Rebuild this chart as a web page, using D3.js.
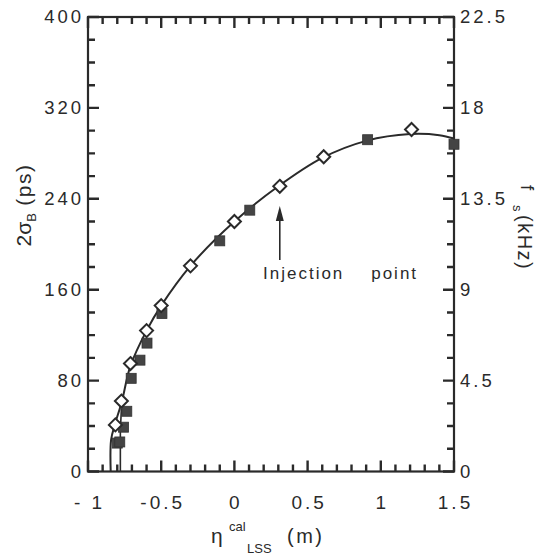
<!DOCTYPE html>
<html>
<head>
<meta charset="utf-8">
<script src="https://cdn.jsdelivr.net/npm/d3@7/dist/d3.min.js"></script>
<style>
  html, body { margin: 0; padding: 0; background: #fff; }
  svg { display: block; }
  text { font-family: "Liberation Sans", Arial, Helvetica, sans-serif; fill: #2a2a2a; }
</style>
</head>
<body>
<svg id="chart" width="538" height="555"></svg>
<script>
// ---- data ----
const xTicks = [-1, -0.5, 0, 0.5, 1, 1.5];
const xTickLabels = ["- 1", "-0.5", "0", "0.5", "1", "1.5"];
const yTicks = [0, 80, 160, 240, 320, 400];
const yTickLabels = ["0", "80", "160", "240", "320", "400"];
const yRTicks = [0, 4.5, 9, 13.5, 18, 22.5];
const yRTickLabels = ["0", "4.5", "9", "13.5", "18", "22.5"];

// open diamonds: [eta, 2sigma]
const diamondX = [-0.813, -0.772, -0.71, -0.60, -0.50, -0.30, 0.0, 0.31, 0.61, 1.21];
const diamondY = [41, 62, 95, 124, 146, 181, 220, 251, 277, 301];
// filled squares
const squareX = [-0.80, -0.783, -0.757, -0.735, -0.705, -0.645, -0.597, -0.495, -0.10, 0.105, 0.91, 1.5];
const squareY = [25, 26, 39, 53, 82, 98, 113, 139, 203, 230, 292, 288];
// fitted curve
const curveX = [-0.845, -0.842, -0.815, -0.77, -0.71, -0.60, -0.50, -0.30, 0.0, 0.30, 0.60, 0.90, 1.20, 1.40, 1.50];
const curveY = [0, 28, 42, 61, 93, 124, 146, 181, 220, 251, 276, 291, 297, 296, 293];
// short second branch near the origin
const branchX = [-0.779, -0.779, -0.772];
const branchY = [0, 36, 55];

const annotationText = "Injection    point";
const annotationX = 0.31;

// ---- layout ----
const svg = d3.select("#chart");
const L = 88, R = 454, T = 17, B = 471.5;
const x = d3.scaleLinear().domain([-1, 1.5]).range([L, R]);
const y = d3.scaleLinear().domain([0, 400]).range([B, T]);
const yR = d3.scaleLinear().domain([0, 22.5]).range([B, T]);

const ink = "#2a2a2a";

// minor tick positions
const xMinor = d3.range(-10, 16).map(d => d / 10);
const yMinor = d3.range(0, 401, 20);
const yRMinor = d3.range(0, 21).map(d => d * 1.125);

// frame
svg.append("rect").attr("x", L).attr("y", T).attr("width", R - L).attr("height", B - T)
  .attr("fill", "none").attr("stroke", ink).attr("stroke-width", 2.2);

// ticks (inward on all four sides)
const segs = [];
xMinor.forEach(d => { segs.push(`M${x(d)},${B}V${B - 7}`, `M${x(d)},${T}V${T + 7}`); });
xTicks.forEach(d => { segs.push(`M${x(d)},${B}V${B - 11}`, `M${x(d)},${T}V${T + 11}`); });
yMinor.forEach(d => { segs.push(`M${L},${y(d)}H${L + 7}`); });
yTicks.forEach(d => { segs.push(`M${L},${y(d)}H${L + 11}`); });
yRMinor.forEach(d => { segs.push(`M${R},${yR(d)}H${R - 7}`); });
yRTicks.forEach(d => { segs.push(`M${R},${yR(d)}H${R - 11}`); });
svg.append("path").attr("d", segs.join(""))
  .attr("fill", "none").attr("stroke", ink).attr("stroke-width", 2.4);

// tick labels
svg.append("g").selectAll("text").data(xTicks).join("text")
  .attr("x", d => x(d) + 1.5).attr("y", B + 37).attr("text-anchor", "middle")
  .attr("font-size", 19).style("letter-spacing", "3px")
  .text((d, i) => xTickLabels[i]);
svg.append("g").selectAll("text").data(yTicks).join("text")
  .attr("x", L - 4).attr("y", d => y(d)).attr("dy", "0.35em").attr("text-anchor", "end")
  .attr("font-size", 18.5).style("letter-spacing", "3px")
  .text((d, i) => yTickLabels[i]);
svg.append("g").selectAll("text").data(yRTicks).join("text")
  .attr("x", R + 6).attr("y", d => yR(d)).attr("dy", "0.35em").attr("text-anchor", "start")
  .attr("font-size", 18.5).style("letter-spacing", "3px")
  .text((d, i) => yRTickLabels[i]);

// curve
const line = d3.line().x(d => x(d[0])).y(d => y(d[1])).curve(d3.curveCatmullRom.alpha(0.5));
svg.append("path").datum(curveX.map((v, i) => [v, curveY[i]]))
  .attr("d", line).attr("fill", "none").attr("stroke", ink).attr("stroke-width", 2);
svg.append("path").datum(branchX.map((v, i) => [v, branchY[i]]))
  .attr("d", d3.line().x(d => x(d[0])).y(d => y(d[1]))).attr("fill", "none")
  .attr("stroke", ink).attr("stroke-width", 1.6);

// squares
const sq = 10;
svg.append("g").selectAll("rect").data(squareX.map((v, i) => [v, squareY[i]])).join("rect")
  .attr("x", d => x(d[0]) - sq / 2).attr("y", d => y(d[1]) - sq / 2)
  .attr("width", sq).attr("height", sq).attr("fill", "#444").attr("stroke", "#333").attr("stroke-width", 0.8);

// diamonds
const dm = 6.5;
svg.append("g").selectAll("path").data(diamondX.map((v, i) => [v, diamondY[i]])).join("path")
  .attr("d", d => {
    const cx = x(d[0]), cy = y(d[1]);
    return `M${cx},${cy - dm}L${cx + dm},${cy}L${cx},${cy + dm}L${cx - dm},${cy}Z`;
  })
  .attr("fill", "#fff").attr("stroke", ink).attr("stroke-width", 2);

// annotation arrow
const ax = x(annotationX);
svg.append("line").attr("x1", ax).attr("x2", ax).attr("y1", 260).attr("y2", 216)
  .attr("stroke", ink).attr("stroke-width", 1.6);
svg.append("path").attr("d", `M${ax},206L${ax + 4},221L${ax - 4},221Z`).attr("fill", ink);
svg.append("text").attr("x", 263).attr("y", 279).attr("font-size", 17)
  .style("letter-spacing", "2px").style("white-space", "pre").attr("xml:space", "preserve")
  .text(annotationText);

// x-axis title: eta^cal_LSS (m)
svg.append("text").attr("x", 211).attr("y", 543).attr("font-size", 21).text("η");
svg.append("text").attr("x", 229).attr("y", 531).attr("font-size", 13).text("cal");
svg.append("text").attr("x", 247).attr("y", 553).attr("font-size", 13).text("LSS");
svg.append("text").attr("x", 287).attr("y", 543).attr("font-size", 20).style("letter-spacing", "2.5px").text("(m)");

// left title: 2σ_B (ps)
const lt = svg.append("text").attr("transform", "translate(31,205) rotate(-90)")
  .attr("text-anchor", "middle").attr("font-size", 21);
lt.append("tspan").text("2σ");
lt.append("tspan").attr("font-size", 13).attr("dy", 5).text("B");
lt.append("tspan").attr("dy", -5).style("letter-spacing", "1.5px").text(" (ps)");

// right title: f_s (kHz)
svg.append("text").attr("transform", "translate(521,185) rotate(90)").attr("font-size", 19).text("f");
svg.append("text").attr("transform", "translate(513,205) rotate(90)").attr("font-size", 13).text("s");
svg.append("text").attr("transform", "translate(518,215) rotate(90)").attr("font-size", 20)
  .style("letter-spacing", "1.5px").text("(kHz)");
</script>
</body>
</html>
